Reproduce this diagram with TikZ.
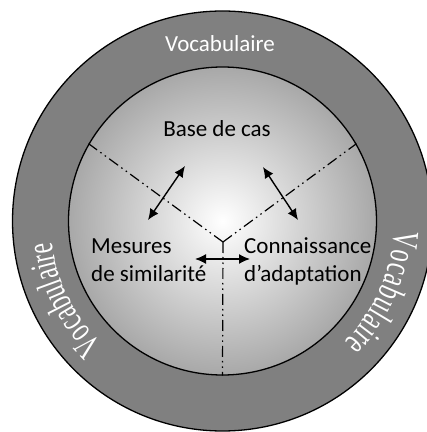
\documentclass[tikz,border=0pt]{standalone}
\usepackage{fontspec}
\setmainfont{Carlito}
\newfontfamily\vocabfont{Liberation Serif}
\usepackage{tikz}
\usetikzlibrary{shapes,arrows.meta,positioning,calc,decorations.text}
\definecolor{ringGray}{RGB}{128,128,128}
\definecolor{coreGray}{RGB}{168,168,168}

\begin{document}
\begin{tikzpicture}[
    x=1pt, y=1pt,
    label/.style={inner sep=0pt, font=\fontsize{23}{28}\selectfont},
    partline/.style={line width=1.2pt, dash pattern=on 11pt off 4pt on 1.5pt off 4pt on 1.5pt off 4pt},
    arrow/.style={<->, >={Latex[length=11pt,width=10pt]}, line width=1.4pt},
    sidetext/.style={decorate, decoration={text effects along path, text={Vocabulaire},
        text effects/.cd, text along path, fit text to path,
        every character/.style={font=\vocabfont\fontsize{24}{24}\selectfont, text=white, yscale=1.55}}}
]
    \useasboundingbox (0,0) rectangle (427,432);
    \coordinate (ctr) at (222.5,211);

    \node[circle, draw, line width=1.3pt, minimum size=420pt, inner sep=0pt,
          fill=ringGray] (outer) at (ctr) {};
    \node[circle, draw, line width=1.3pt, minimum size=308pt, inner sep=0pt,
          inner color=white, outer color=coreGray] (inner) at (ctr) {};

    \node[label, text=white] (vtop) at (220,388) {Vocabulaire};
    \path[sidetext] (ctr) ++(226:172) arc[start angle=226, end angle=187, radius=172];
    \path[sidetext] (ctr) ++(-3:172) arc[start angle=-3, end angle=-45, radius=172];

    \coordinate (yj) at (223,190);
    \draw[partline] (yj) -- (inner.150);
    \draw[partline] (yj) -- (inner.30);
    \draw[partline] (yj) -- (inner.south);

    \node[label] (base) at (217,303) {Base de cas};
    \node[label, align=left, anchor=west] (mesures) at (91,172) {Mesures\\de similarité};
    \node[label, align=left, anchor=west] (adapt) at (244,171) {Connaissance\\d’adaptation};

    \coordinate (a1s) at (148,212);
    \coordinate (a1e) at (185,266);
    \coordinate (a2s) at (263,265);
    \coordinate (a2e) at (298,212);
    \coordinate (a3s) at (195,173);
    \coordinate (a3e) at (250,173);
    \draw[arrow] (a1s) -- (a1e);
    \draw[arrow] (a2s) -- (a2e);
    \draw[arrow] (a3s) -- (a3e);
\end{tikzpicture}
\end{document}
